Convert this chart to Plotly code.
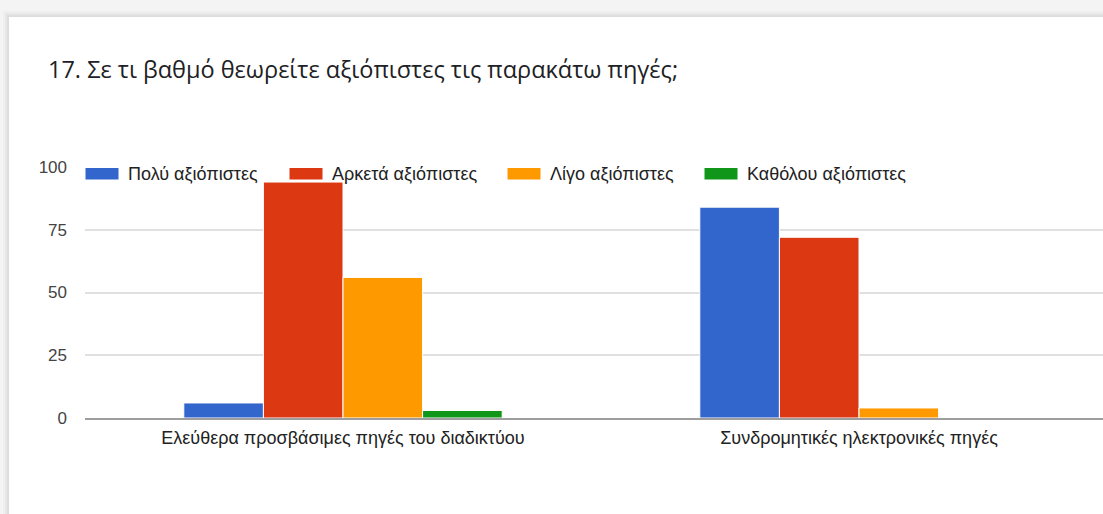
import plotly.graph_objects as go

# ---------- data ----------
TITLE = "17. Σε τι βαθμό θεωρείτε αξιόπιστες τις παρακάτω πηγές;"
categories = [
    "Ελεύθερα προσβάσιμες πηγές του διαδικτύου",
    "Συνδρομητικές ηλεκτρονικές πηγές",
]
series_names = [
    "Πολύ αξιόπιστες",
    "Αρκετά αξιόπιστες",
    "Λίγο αξιόπιστες",
    "Καθόλου αξιόπιστες",
]
very_reliable = [6, 84]
quite_reliable = [94, 72]
little_reliable = [56, 4]
not_reliable = [3, 0]
y_ticks = [0, 25, 50, 75, 100]

series_values = [very_reliable, quite_reliable, little_reliable, not_reliable]
colors = ["#3366cc", "#dc3912", "#ff9900", "#109618"]

# ---------- geometry helpers (pixel -> paper) ----------
W, H = 1103, 514
L, R, T, B = 85, 0, 167, 96
PW, PH = W - L - R, H - T - B


def px(x):
    return (x - L) / PW


def py(y):
    return (H - B - y) / PH


fig = go.Figure()
for name, vals, col in zip(series_names, series_values, colors):
    fig.add_trace(go.Bar(
        x=categories, y=vals, name=name,
        marker=dict(color=col, line=dict(color="white", width=1)),
        showlegend=False,
    ))

shapes = []
# card background + soft shadow
for i, a in enumerate([0.02, 0.03, 0.045]):
    d = 6 - 2 * i
    shapes.append(dict(type="rect", xref="paper", yref="paper", layer="below",
                       x0=px(9 - d), x1=px(W + 20), y0=py(H + 20), y1=py(17 - d),
                       fillcolor=f"rgba(0,0,0,{a})", line=dict(width=0)))
shapes.append(dict(type="rect", xref="paper", yref="paper", layer="below",
                   x0=px(9), x1=px(W + 20), y0=py(H + 20), y1=py(17),
                   fillcolor="white", line=dict(width=0)))

# custom legend (wide swatches like Google Charts)
swatch_x = [85, 289, 507, 704]
annotations = []
for sx, name, col in zip(swatch_x, series_names, colors):
    shapes.append(dict(type="rect", xref="paper", yref="paper", layer="above",
                       x0=px(sx), x1=px(sx + 34), y0=py(180), y1=py(167.5),
                       fillcolor=col, line=dict(color="white", width=1)))
    annotations.append(dict(text=name, xref="paper", yref="paper",
                            x=px(sx + 41), y=py(174), xanchor="left", yanchor="middle",
                            showarrow=False,
                            font=dict(family="Liberation Sans, Arial", size=18, color="#222222")))

annotations.append(dict(text=TITLE, xref="paper", yref="paper",
                        x=px(46), y=py(69), xanchor="left", yanchor="middle",
                        showarrow=False,
                        font=dict(family="Open Sans, sans-serif", size=23.5, color="#202124")))

fig.update_layout(
    width=W, height=H,
    margin=dict(l=L, r=R, t=T, b=B, pad=0),
    paper_bgcolor="#f4f4f4",
    plot_bgcolor="rgba(0,0,0,0)",
    barmode="group",
    bargap=0.383,
    bargroupgap=0,
    shapes=shapes,
    annotations=annotations,
    font=dict(family="Liberation Sans, Arial", size=17, color="#444444"),
    showlegend=False,
)
fig.update_xaxes(
    range=[-0.5, -0.5 + PW / 516],
    showgrid=False, showline=True, linecolor="#9e9e9e", linewidth=1.5,
    ticks="", ticklabelstandoff=3,
    tickfont=dict(size=18, color="#222222"),
    fixedrange=True,
)
fig.update_yaxes(
    range=[0, 100], tickvals=y_ticks,
    showgrid=True, gridcolor="#e0e0e0", gridwidth=1.5,
    zeroline=False, showline=False,
    ticks="", ticklabelstandoff=17,
    tickfont=dict(size=17, color="#444444"),
    fixedrange=True,
)

fig.write_html("out.html", config={"displayModeBar": False},
               post_script="document.body.style.margin='0';")
